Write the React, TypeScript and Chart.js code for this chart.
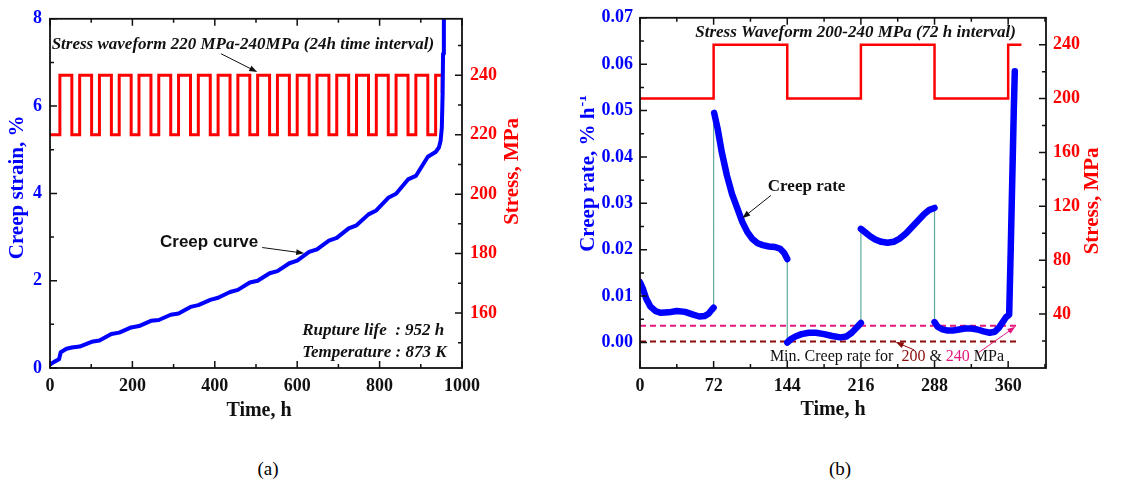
import React, { useEffect, useRef } from "react";
import { Chart, registerables } from "chart.js";

Chart.register(...registerables);

const SERIF = "'Liberation Serif', 'Times New Roman', serif";
const SANS = "'Liberation Sans', Arial, sans-serif";
const BLUE = "#0000ff";
const RED = "#ff0000";
const INK = "#111111";
const TEAL = "#5fa89c";
const MAROON = "#8b0a0a";
const PINK = "#e4187c";

// ---- (a) creep strain under 220/240 MPa cycling (24 h steps) ----
const strainHours = [0, 10, 22, 26, 40, 53, 72, 101, 120, 149, 168, 197, 216, 245, 264, 293, 312, 341, 360, 389, 408, 437, 456, 485, 504, 533, 552, 581, 600, 629, 648, 677, 696, 725, 744, 773, 792, 821, 840, 869, 888, 917, 936, 944, 948, 951, 953, 954, 956];
const strainPct = [0.08, 0.14, 0.2, 0.36, 0.44, 0.47, 0.49, 0.6, 0.63, 0.78, 0.81, 0.93, 0.96, 1.08, 1.1, 1.22, 1.25, 1.4, 1.44, 1.56, 1.61, 1.74, 1.79, 1.96, 2.0, 2.17, 2.22, 2.4, 2.46, 2.66, 2.72, 2.92, 2.98, 3.2, 3.27, 3.52, 3.61, 3.9, 3.99, 4.32, 4.4, 4.84, 4.95, 5.05, 5.2, 5.5, 6.3, 7.2, 8.6];

const stressHoursA = [0, 24, 53, 72, 101, 120, 149, 168, 197, 216, 245, 264, 293, 312, 341, 360, 389, 408, 437, 456, 485, 504, 533, 552, 581, 600, 629, 648, 677, 696, 725, 744, 773, 792, 821, 840, 869, 888, 917, 936, 952];
const stressLevelsA = [220, 240, 220, 240, 220, 240, 220, 240, 220, 240, 220, 240, 220, 240, 220, 240, 220, 240, 220, 240, 220, 240, 220, 240, 220, 240, 220, 240, 220, 240, 220, 240, 220, 240, 220, 240, 220, 240, 220, 240, 234];

const timeTicksA = [0, 200, 400, 600, 800, 1000];
const timeMinorA = [100, 300, 500, 700, 900];
const strainTicks = [0, 2, 4, 6, 8];
const strainMinor = [1, 3, 5, 7];
const stressTicksA = [160, 180, 200, 220, 240];
const stressMinorA = [150, 170, 190, 210, 230, 250];

// ---- (b) creep rate under 200/240 MPa cycling (72 h steps) ----
const rateHours = [
  0, 3, 6, 10, 15, 20, 28, 36, 44, 52, 58, 63, 67, 70, 72, 72,
  72.5, 76, 80, 85, 90, 95, 100, 105, 110, 115, 120, 126, 132, 137, 141, 144, 144,
  144, 148, 152, 158, 165, 172, 180, 188, 196, 202, 207, 211, 216, 216,
  216, 220, 225, 230, 236, 242, 248, 254, 260, 266, 272, 278, 283, 288, 288,
  288, 291, 295, 300, 306, 312, 318, 324, 330, 336, 342, 347, 351, 355, 358, 360, 361, 362.5, 364, 365.5, 366.5,
];
const rateValues = [
  0.013, 0.0115, 0.0095, 0.0078, 0.0068, 0.0064, 0.0065, 0.0068, 0.0066, 0.006, 0.0056, 0.0057, 0.0062, 0.007, 0.0075, null,
  0.0495, 0.046, 0.041, 0.036, 0.032, 0.029, 0.026, 0.0238, 0.0223, 0.0214, 0.021, 0.0207, 0.0206, 0.0202, 0.0193, 0.018, null,
  0.0, 0.0008, 0.0013, 0.0018, 0.0021, 0.0021, 0.0018, 0.0014, 0.0011, 0.0013, 0.0021, 0.003, 0.0042, null,
  0.0245, 0.0238, 0.0229, 0.0222, 0.0217, 0.0215, 0.0217, 0.0224, 0.0235, 0.0249, 0.0263, 0.0277, 0.0286, 0.029, null,
  0.0044, 0.0034, 0.0029, 0.0026, 0.0026, 0.0028, 0.003, 0.003, 0.0028, 0.0024, 0.0021, 0.0023, 0.0032, 0.0045, 0.0055, 0.0058, 0.006, 0.02, 0.035, 0.05, 0.0585,
];
const jumpHours = [72, 144, 216, 288];
const jumpFrom = [0.0075, 0.018, 0.0042, 0.029];
const jumpTo = [0.0495, 0.0, 0.0245, 0.0044];

const stressHoursB = [0, 72, 144, 216, 288, 360, 373];
const stressLevelsB = [200, 240, 200, 240, 200, 240, 240];

const minRate200 = 0.0002;
const minRate240 = 0.0036;
const minRateSpan = [0, 369];

const timeTicksB = [0, 72, 144, 216, 288, 360];
const timeMinorB = [36, 108, 180, 252, 324, 396];
const rateTicks = [0, 0.01, 0.02, 0.03, 0.04, 0.05, 0.06, 0.07];
const rateMinor = [0.005, 0.015, 0.025, 0.035, 0.045, 0.055, 0.065];
const stressTicksB = [40, 80, 120, 160, 200, 240];
const stressMinorB = [20, 60, 100, 140, 180, 220];

type TickSpec = { axis: string; side: "bottom" | "left" | "right"; major: number[]; minor: number[] };

// Box frame with inward major/minor tick marks
function framePlugin(specs: TickSpec[]) {
  return {
    id: "frameTicks",
    afterDatasetsDraw(chart: any) {
      const { ctx, chartArea: a } = chart;
      ctx.save();
      ctx.strokeStyle = INK;
      ctx.lineWidth = 1.8;
      ctx.strokeRect(a.left, a.top, a.right - a.left, a.bottom - a.top);
      ctx.lineWidth = 1.5;
      ctx.beginPath();
      for (const s of specs) {
        const sc = chart.scales[s.axis];
        const mark = (v: number, len: number) => {
          const p = sc.getPixelForValue(v);
          if (s.side === "bottom") {
            ctx.moveTo(p, a.bottom);
            ctx.lineTo(p, a.bottom - len);
            ctx.moveTo(p, a.top);
            ctx.lineTo(p, a.top + len);
          } else if (s.side === "left") {
            ctx.moveTo(a.left, p);
            ctx.lineTo(a.left + len, p);
          } else {
            ctx.moveTo(a.right, p);
            ctx.lineTo(a.right - len, p);
          }
        };
        s.major.forEach((v) => mark(v, 7));
        s.minor.forEach((v) => mark(v, 4));
      }
      ctx.stroke();
      ctx.restore();
    },
  };
}

type Part = { t: string; c?: string };
type Note = { axis: string; x: number; y: number; parts: Part[]; font: string; align?: "left" | "center" };
type Pointer = { axis: string; from: [number, number]; to: [number, number]; color: string };
type AxisTitle = { text: string; sup?: string; dx: number; dy: number; color: string; font: string };
type Titles = { left: AxisTitle; right: AxisTitle; bottom: AxisTitle };

function drawParts(ctx: CanvasRenderingContext2D, parts: Part[], x: number, y: number, align: "left" | "center") {
  const widths = parts.map((p) => ctx.measureText(p.t).width);
  const total = widths.reduce((s, w) => s + w, 0);
  let cx = align === "center" ? x - total / 2 : x;
  ctx.textAlign = "left";
  parts.forEach((p, i) => {
    ctx.fillStyle = p.c || INK;
    ctx.fillText(p.t, cx, y);
    cx += widths[i];
  });
}

// Axis titles, text labels and arrows placed in data coordinates
function notesPlugin(notes: Note[], pointers: Pointer[], titles: Titles) {
  return {
    id: "notes",
    afterDraw(chart: any) {
      const { ctx, chartArea: a, scales } = chart;
      const xs = scales.x;
      ctx.save();
      ctx.textBaseline = "middle";
      for (const n of notes) {
        ctx.font = n.font;
        drawParts(ctx, n.parts, xs.getPixelForValue(n.x), scales[n.axis].getPixelForValue(n.y), n.align || "left");
      }
      for (const p of pointers) {
        const ys = scales[p.axis];
        const x0 = xs.getPixelForValue(p.from[0]);
        const y0 = ys.getPixelForValue(p.from[1]);
        const x1 = xs.getPixelForValue(p.to[0]);
        const y1 = ys.getPixelForValue(p.to[1]);
        const ang = Math.atan2(y1 - y0, x1 - x0);
        ctx.strokeStyle = p.color;
        ctx.fillStyle = p.color;
        ctx.lineWidth = 1;
        ctx.beginPath();
        ctx.moveTo(x0, y0);
        ctx.lineTo(x1 - 5 * Math.cos(ang), y1 - 5 * Math.sin(ang));
        ctx.stroke();
        ctx.beginPath();
        ctx.moveTo(x1, y1);
        ctx.lineTo(x1 - 8 * Math.cos(ang) + 3 * Math.sin(ang), y1 - 8 * Math.sin(ang) - 3 * Math.cos(ang));
        ctx.lineTo(x1 - 8 * Math.cos(ang) - 3 * Math.sin(ang), y1 - 8 * Math.sin(ang) + 3 * Math.cos(ang));
        ctx.closePath();
        ctx.fill();
      }
      const midY = (a.top + a.bottom) / 2;
      const midX = (a.left + a.right) / 2;
      const vertical = (t: AxisTitle, cx: number, cy: number) => {
        ctx.save();
        ctx.translate(cx, cy);
        ctx.rotate(-Math.PI / 2);
        ctx.font = t.font;
        ctx.fillStyle = t.color;
        const w1 = ctx.measureText(t.text).width;
        let w2 = 0;
        const supFont = t.font.replace(/\d+px/, "14px");
        if (t.sup) {
          ctx.font = supFont;
          w2 = ctx.measureText(t.sup).width;
        }
        const start = -(w1 + w2) / 2;
        ctx.textAlign = "left";
        ctx.font = t.font;
        ctx.fillText(t.text, start, 0);
        if (t.sup) {
          ctx.font = supFont;
          ctx.fillText(t.sup, start + w1 + 1, -7);
        }
        ctx.restore();
      };
      vertical(titles.left, a.left + titles.left.dx, midY + titles.left.dy);
      vertical(titles.right, a.right + titles.right.dx, midY + titles.right.dy);
      ctx.font = titles.bottom.font;
      ctx.fillStyle = titles.bottom.color;
      ctx.textAlign = "center";
      ctx.fillText(titles.bottom.text, midX + titles.bottom.dx, a.bottom + titles.bottom.dy);
      ctx.restore();
    },
  };
}

const tickFont = { family: SERIF, size: 18, weight: "bold" as const };

function fixedTicks(values: number[]) {
  return (scale: any) => {
    scale.ticks = values.map((v) => ({ value: v }));
  };
}

function axis(opts: any) {
  return {
    type: "linear",
    grid: { display: false, drawTicks: false },
    border: { display: false },
    ...opts,
    ticks: { font: tickFont, autoSkip: false, maxRotation: 0, ...opts.ticks },
  };
}

const plain = (v: number) => String(v);

function configA(): any {
  return {
    type: "line",
    data: {
      datasets: [
        {
          label: "Creep strain",
          data: strainHours.map((h, i) => ({ x: h, y: strainPct[i] })),
          yAxisID: "y",
          borderColor: BLUE,
          borderWidth: 4,
          pointRadius: 0,
          borderCapStyle: "round",
          borderJoinStyle: "round",
        },
        {
          label: "Stress",
          data: stressHoursA.map((h, i) => ({ x: h, y: stressLevelsA[i] })),
          yAxisID: "y1",
          borderColor: RED,
          borderWidth: 3,
          pointRadius: 0,
          stepped: "before",
        },
      ],
    },
    options: {
      responsive: false,
      animation: false,
      devicePixelRatio: 1,
      layout: { padding: { top: 15, left: 0, right: 0, bottom: 0 } },
      plugins: { legend: { display: false }, tooltip: { enabled: false } },
      scales: {
        x: axis({
          min: 0,
          max: 1000,
          afterBuildTicks: fixedTicks(timeTicksA),
          afterFit: (s: any) => { s.height = 62; },
          ticks: { color: INK, padding: 8, callback: plain },
        }),
        y: axis({
          position: "left",
          min: 0,
          max: 8,
          afterBuildTicks: fixedTicks(strainTicks),
          afterFit: (s: any) => { s.width = 50; },
          ticks: { color: BLUE, padding: 8, callback: plain },
        }),
        y1: axis({
          position: "right",
          min: 141.5,
          max: 259,
          afterBuildTicks: fixedTicks(stressTicksA),
          afterFit: (s: any) => { s.width = 98; },
          ticks: { color: RED, padding: 8, callback: plain },
        }),
      },
    },
    plugins: [
      framePlugin([
        { axis: "x", side: "bottom", major: timeTicksA, minor: timeMinorA },
        { axis: "y", side: "left", major: strainTicks, minor: strainMinor },
        { axis: "y1", side: "right", major: stressTicksA, minor: stressMinorA },
      ]),
      notesPlugin(
        [
          { axis: "y", x: 4, y: 7.41, parts: [{ t: "Stress waveform 220 MPa-240MPa (24h time interval)" }], font: `italic bold 17px ${SERIF}` },
          { axis: "y", x: 267, y: 2.88, parts: [{ t: "Creep curve" }], font: `bold 17px ${SANS}` },
          { axis: "y", x: 612, y: 0.86, parts: [{ t: "Rupture life  : 952 h" }], font: `italic bold 17px ${SERIF}` },
          { axis: "y", x: 612, y: 0.36, parts: [{ t: "Temperature : 873 K" }], font: `italic bold 17px ${SERIF}` },
        ],
        [
          { axis: "y", from: [415, 7.2], to: [503, 6.78], color: INK },
          { axis: "y", from: [515, 2.76], to: [617, 2.63], color: INK },
        ],
        {
          left: { text: "Creep strain, %", dx: -32, dy: -6, color: BLUE, font: `bold 21px ${SERIF}` },
          right: { text: "Stress, MPa", dx: 51, dy: -22, color: RED, font: `bold 21px ${SERIF}` },
          bottom: { text: "Time, h", dx: 3, dy: 43, color: INK, font: `bold 20px ${SERIF}` },
        }
      ),
    ],
  };
}

function configB(): any {
  const jumps: any[] = [];
  jumpHours.forEach((h, i) => {
    jumps.push({ x: h, y: jumpFrom[i] }, { x: h, y: jumpTo[i] }, { x: h, y: null });
  });
  const dashed = (value: number, color: string) => ({
    data: minRateSpan.map((h) => ({ x: h, y: value })),
    yAxisID: "y",
    borderColor: color,
    borderWidth: 2,
    borderDash: [6, 4],
    pointRadius: 0,
  });
  return {
    type: "line",
    data: {
      datasets: [
        {
          label: "Creep rate",
          data: rateHours.map((h, i) => ({ x: h, y: rateValues[i] })),
          yAxisID: "y",
          borderColor: BLUE,
          borderWidth: 6.5,
          pointRadius: 0,
          borderCapStyle: "round",
          borderJoinStyle: "round",
          spanGaps: false,
        },
        {
          label: "Stress change",
          data: jumps,
          yAxisID: "y",
          borderColor: TEAL,
          borderWidth: 1.2,
          pointRadius: 0,
          spanGaps: false,
        },
        { label: "Min. rate 240 MPa", ...dashed(minRate240, PINK) },
        { label: "Min. rate 200 MPa", ...dashed(minRate200, MAROON) },
        {
          label: "Stress",
          data: stressHoursB.map((h, i) => ({ x: h, y: stressLevelsB[i] })),
          yAxisID: "y1",
          borderColor: RED,
          borderWidth: 2.5,
          pointRadius: 0,
          stepped: "before",
        },
      ],
    },
    options: {
      responsive: false,
      animation: false,
      devicePixelRatio: 1,
      layout: { padding: { top: 15, left: 0, right: 0, bottom: 0 } },
      plugins: { legend: { display: false }, tooltip: { enabled: false } },
      scales: {
        x: axis({
          min: 0,
          max: 397,
          afterBuildTicks: fixedTicks(timeTicksB),
          afterFit: (s: any) => { s.height = 62; },
          ticks: { color: INK, padding: 8, callback: plain },
        }),
        y: axis({
          position: "left",
          min: -0.0055,
          max: 0.07,
          afterBuildTicks: fixedTicks(rateTicks),
          afterFit: (s: any) => { s.width = 60; },
          ticks: { color: BLUE, padding: 7, callback: (v: number) => v.toFixed(2) },
        }),
        y1: axis({
          position: "right",
          min: 0,
          max: 260,
          afterBuildTicks: fixedTicks(stressTicksB),
          afterFit: (s: any) => { s.width = 101; },
          ticks: { color: RED, padding: 7, callback: plain },
        }),
      },
    },
    plugins: [
      framePlugin([
        { axis: "x", side: "bottom", major: timeTicksB, minor: timeMinorB },
        { axis: "y", side: "left", major: rateTicks, minor: rateMinor },
        { axis: "y1", side: "right", major: stressTicksB, minor: stressMinorB },
      ]),
      notesPlugin(
        [
          { axis: "y", x: 54, y: 0.0668, parts: [{ t: "Stress Waveform 200-240 MPa (72 h interval)" }], font: `italic bold 17px ${SERIF}` },
          { axis: "y", x: 125, y: 0.0336, parts: [{ t: "Creep rate" }], font: `bold 17px ${SERIF}` },
          {
            axis: "y",
            x: 127,
            y: -0.003,
            parts: [{ t: "Min. Creep rate for  " }, { t: "200", c: MAROON }, { t: " & " }, { t: "240", c: PINK }, { t: " MPa" }],
            font: `16px ${SERIF}`,
          },
        ],
        [
          { axis: "y", from: [128, 0.0317], to: [100, 0.0268], color: INK },
          { axis: "y", from: [268, -0.0016], to: [250, 0.0001], color: MAROON },
          { axis: "y", from: [331, -0.0022], to: [367, 0.0034], color: PINK },
        ],
        {
          left: { text: "Creep rate, % h", sup: "-1", dx: -51, dy: -19, color: BLUE, font: `bold 21px ${SERIF}` },
          right: { text: "Stress, MPa", dx: 47, dy: 8, color: RED, font: `bold 21px ${SERIF}` },
          bottom: { text: "Time, h", dx: -10, dy: 42, color: INK, font: `bold 20px ${SERIF}` },
        }
      ),
    ],
  };
}

function ChartCanvas({ make, left, width, height }: { make: () => any; left: number; width: number; height: number }) {
  const ref = useRef<HTMLCanvasElement>(null);
  useEffect(() => {
    const chart = new Chart(ref.current as HTMLCanvasElement, make());
    return () => chart.destroy();
  }, []);
  return (
    <canvas
      ref={ref}
      width={width}
      height={height}
      style={{ position: "absolute", left, top: 0, width, height }}
    />
  );
}

const captionStyle = (x: number): React.CSSProperties => ({
  position: "absolute",
  left: x,
  top: 458,
  transform: "translateX(-50%)",
  fontFamily: SERIF,
  fontSize: 19,
  color: "#000",
  lineHeight: "22px",
});

export default function App() {
  return (
    <div style={{ position: "fixed", left: 0, top: 0, width: 1147, height: 484, background: "#fff", overflow: "hidden" }}>
      <ChartCanvas make={configA} left={0} width={560} height={430} />
      <ChartCanvas make={configB} left={580} width={567} height={430} />
      <div style={captionStyle(268)}>(a)</div>
      <div style={captionStyle(840)}>(b)</div>
    </div>
  );
}
